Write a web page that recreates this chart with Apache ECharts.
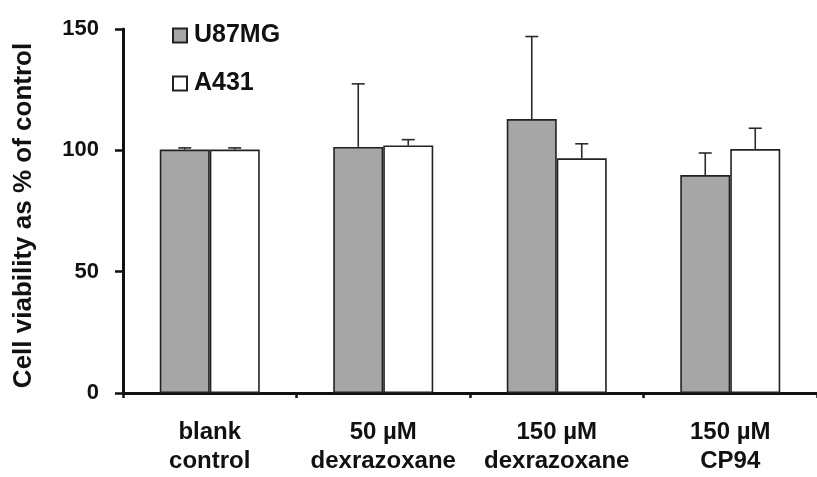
<!DOCTYPE html>
<html>
<head>
<meta charset="utf-8">
<script src="https://cdn.jsdelivr.net/npm/echarts@6/dist/echarts.min.js"></script>
<style>html,body{margin:0;padding:0;background:#fff;}#c{width:817px;height:477px;}</style>
</head>
<body>
<div id="c"></div>
<script>
const categories = ['blank\ncontrol', '50 µM\ndexrazoxane', '150 µM\ndexrazoxane', '150 µM\nCP94'];
const seriesNames = ['U87MG', 'A431'];
const u87 = [100.3, 101.4, 112.9, 89.8];
const u87Err = [0.7, 26, 34, 9.1];
const a431 = [100.3, 102.0, 96.7, 100.5];
const a431Err = [0.7, 2.4, 6.0, 8.6];
const yTicks = [0, 50, 100, 150];

const FONT = '"Liberation Sans", Arial, sans-serif';
const chart = echarts.init(document.getElementById('c'), null, {renderer: 'canvas'});

function errData(vals, errs) {
  return vals.map((v, i) => [i, v, v + errs[i]]);
}
function errRender(offset) {
  return function (params, api) {
    const base = api.coord([api.value(0), api.value(1)]);
    const top = api.coord([api.value(0), api.value(2)]);
    const x = base[0] + offset;
    const cap = 6.5;
    const style = {stroke: '#2a2a2a', lineWidth: 1.6, fill: null};
    return {
      type: 'group',
      children: [
        {type: 'line', shape: {x1: x, y1: base[1], x2: x, y2: top[1]}, style: style},
        {type: 'line', shape: {x1: x - cap, y1: top[1], x2: x + cap, y2: top[1]}, style: style}
      ]
    };
  };
}

chart.setOption({
  backgroundColor: '#fff',
  animation: false,
  grid: {left: 123, top: 29, width: 704, height: 364, containLabel: false},
  legend: {
    orient: 'vertical',
    left: 172,
    top: 23,
    padding: 0,
    icon: 'rect',
    itemWidth: 14,
    itemHeight: 14,
    itemGap: 23,
    data: seriesNames,
    textStyle: {fontFamily: FONT, fontWeight: 'bold', fontSize: 25, color: '#111', padding: [0, 0, 0, 2], lineHeight: 25}
  },
  xAxis: {
    type: 'category',
    data: categories,
    axisLine: {lineStyle: {color: '#111', width: 3}},
    axisTick: {show: true, length: 5, lineStyle: {color: '#111', width: 2.5}, alignWithLabel: false},
    axisLabel: {fontFamily: FONT, fontWeight: 'bold', fontSize: 24, color: '#111', lineHeight: 29, margin: 25, interval: 0}
  },
  yAxis: {
    type: 'value',
    min: yTicks[0],
    max: yTicks[yTicks.length - 1],
    interval: 50,
    name: 'Cell viability as % of control',
    nameLocation: 'middle',
    nameRotate: 90,
    nameGap: 86,
    nameTextStyle: {fontFamily: FONT, fontWeight: 'bold', fontSize: 26, color: '#111', padding: [0, 9, 0, 0]},
    axisLine: {show: true, lineStyle: {color: '#111', width: 3}},
    axisTick: {show: true, inside: false, length: 8, lineStyle: {color: '#111', width: 2.5}},
    axisLabel: {fontFamily: FONT, fontWeight: 'bold', fontSize: 22, color: '#111', margin: 24},
    splitLine: {show: false}
  },
  series: [
    {
      name: seriesNames[0], type: 'bar', data: u87, barWidth: 50, barGap: '0%',
      itemStyle: {color: '#a6a6a6', borderColor: '#222', borderWidth: 1.6}
    },
    {
      name: seriesNames[1], type: 'bar', data: a431, barWidth: 50, barGap: '0%',
      itemStyle: {color: '#ffffff', borderColor: '#222', borderWidth: 1.6}
    },
    {
      type: 'custom', data: errData(u87, u87Err), renderItem: errRender(-25),
      encode: {x: 0, y: [1, 2]}, z: 5, silent: true
    },
    {
      type: 'custom', data: errData(a431, a431Err), renderItem: errRender(25),
      encode: {x: 0, y: [1, 2]}, z: 5, silent: true
    }
  ]
});
</script>
</body>
</html>
